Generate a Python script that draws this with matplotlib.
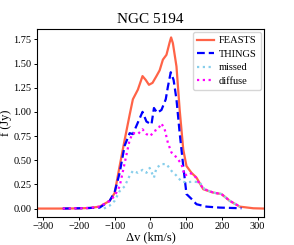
import matplotlib
matplotlib.use('Agg')
import matplotlib.pyplot as plt

plt.rcParams['font.family'] = ['Liberation Serif', 'DejaVu Serif']

# velocity (km/s) and flux (Jy)
feasts_v = [-318, -250, -200, -170, -142, -114, -100, -86, -72, -58, -49, -35, -22,
            -13, -4, 6, 17, 26, 35, 45, 54, 58, 63, 73, 82, 92, 101, 115, 129,
            148, 176, 199, 222, 250, 288, 318]
feasts_f = [0.0, 0.0, 0.002, 0.006, 0.02, 0.08, 0.16, 0.44, 0.71, 0.97, 1.13, 1.23, 1.37,
            1.33, 1.28, 1.30, 1.37, 1.43, 1.54, 1.59, 1.72, 1.77, 1.71, 1.47, 1.02, 0.61,
            0.44, 0.37, 0.32, 0.20, 0.165, 0.15, 0.08, 0.02, 0.003, 0.0]

things_v = [-245, -200, -170, -142, -114, -100, -86, -72, -58, -49, -35, -22, -11, 3,
            10, 19, 31, 43, 49, 57, 65, 73, 82, 92, 101, 115, 129, 157, 194, 255]
things_f = [0.0, 0.003, 0.006, 0.01, 0.08, 0.17, 0.37, 0.65, 0.78, 0.77, 0.89, 1.00, 0.90,
            0.87, 1.04, 0.99, 1.02, 1.13, 1.26, 1.41, 1.33, 1.13, 0.78, 0.44, 0.15, 0.10,
            0.045, 0.02, 0.01, 0.003]

missed_v = [-130, -114, -100, -86, -72, -58, -49, -35, -22, -11, -2, 10, 17, 31, 45, 59,
            73, 87, 101, 120, 138, 152, 176, 199, 222, 250]
missed_f = [0.0, 0.03, 0.08, 0.18, 0.23, 0.34, 0.39, 0.37, 0.40, 0.37, 0.42, 0.32, 0.42,
            0.46, 0.46, 0.39, 0.34, 0.28, 0.27, 0.28, 0.27, 0.20, 0.165, 0.15, 0.08, 0.02]

diffuse_v = [-245, -200, -170, -142, -114, -100, -86, -72, -58, -49, -35, -22, -11, 0,
             10, 21, 31, 40, 49, 59, 73, 87, 96, 110, 124, 138, 152, 176, 199, 222, 246]
diffuse_f = [0.0, 0.003, 0.006, 0.02, 0.08, 0.13, 0.23, 0.47, 0.71, 0.78, 0.77, 0.82, 0.77,
             0.75, 0.80, 0.82, 0.88, 0.82, 0.68, 0.58, 0.53, 0.46, 0.34, 0.37, 0.34, 0.25,
             0.20, 0.165, 0.15, 0.08, 0.03]

fig = plt.figure(figsize=(2.94, 2.45), dpi=100)
ax = fig.add_axes([0.125, 0.114, 0.773, 0.768])

ax.plot(feasts_v, feasts_f, color='tomato', lw=1.6, label='FEASTS')
ax.plot(things_v, things_f, color='blue', lw=1.6, ls=(0, (3.5, 1.8)), label='THINGS')
ax.plot(missed_v, missed_f, color='skyblue', lw=1.6, ls=(0, (1, 1.6)), label='missed')
ax.plot(diffuse_v, diffuse_f, color='magenta', lw=1.6, ls=(0, (1, 1.6)), label='diffuse')

ax.set_xlim(-318, 318)
ax.set_ylim(-0.088, 1.858)
ax.set_xticks([-300, -200, -100, 0, 100, 200, 300])
ax.set_yticks([0, 0.25, 0.5, 0.75, 1.0, 1.25, 1.5, 1.75])
ax.tick_params(labelsize=7.5, length=2.2, width=0.7, pad=1.5)
for s in ax.spines.values():
    s.set_linewidth(0.8)
ax.set_xlabel('Δv (km/s)', fontsize=9, labelpad=0)
ax.set_ylabel('f (Jy)', fontsize=9, labelpad=1)
ax.set_title('NGC 5194', fontsize=11, pad=4)
ax.legend(loc='upper right', fontsize=7.5, handlelength=1.6, borderaxespad=0.3,
          labelspacing=0.4, borderpad=0.4, handletextpad=0.5)

fig.savefig('out.png', dpi=100)
